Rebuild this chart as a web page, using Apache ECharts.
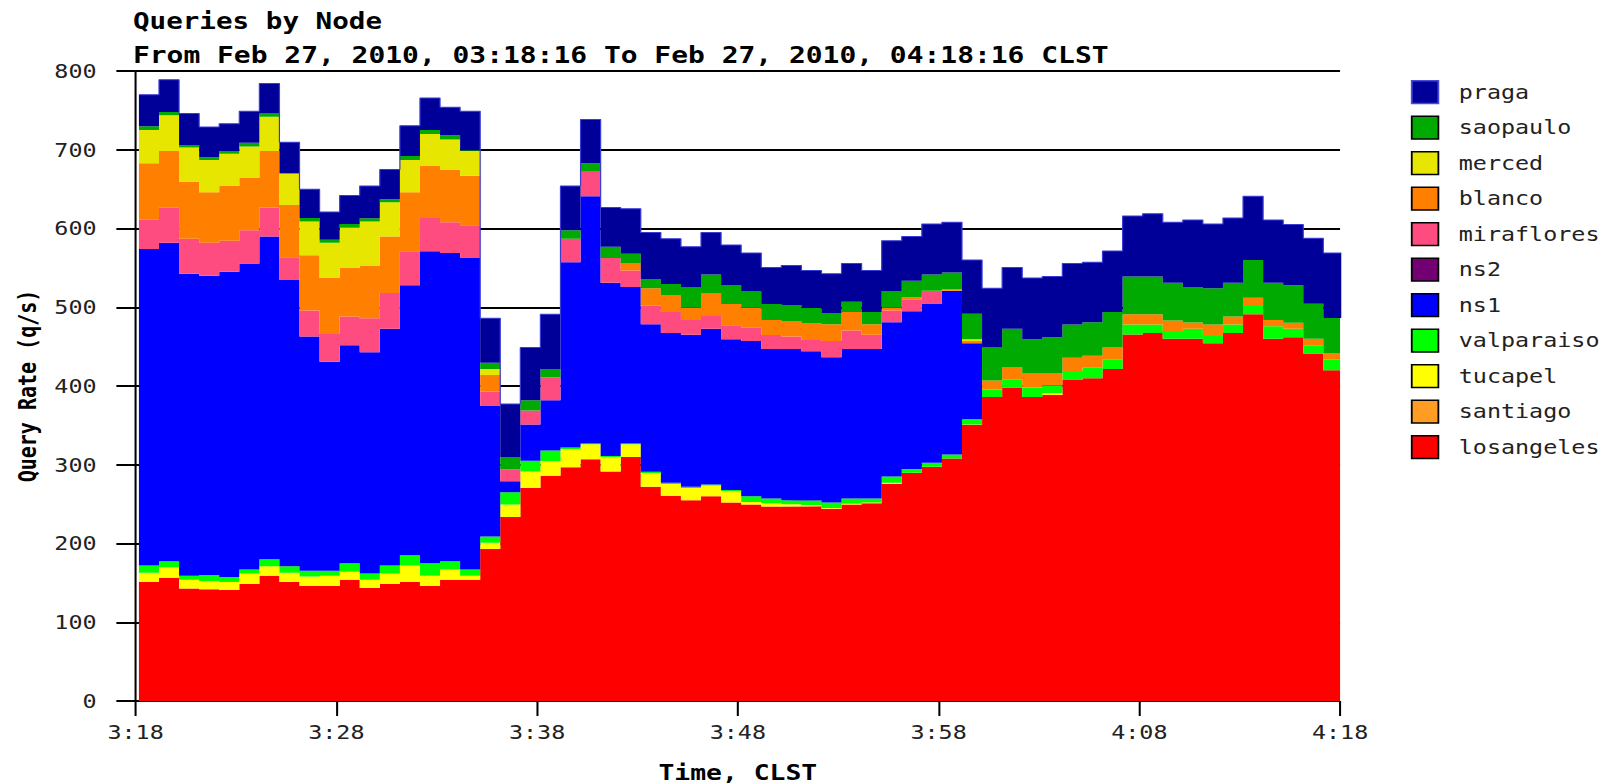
<!DOCTYPE html>
<html><head><meta charset="utf-8">
<script src="https://cdn.jsdelivr.net/npm/echarts@6/dist/echarts.min.js"></script>
<style>
html,body{margin:0;padding:0;background:#fff;overflow:hidden;}
#wrap{width:1604px;height:784px;overflow:hidden;position:relative;background:#fff;}
#chart{width:1337px;height:784px;transform:scaleX(1.1997);transform-origin:0 0;}
</style></head><body><div id="wrap"><div id="chart"></div></div>
<script>
const titleText = 'Queries by Node';
const subtitleText = 'From Feb 27, 2010, 03:18:16 To Feb 27, 2010, 04:18:16 CLST';
const xAxisName = 'Time, CLST';
const yAxisName = 'Query Rate (q/s)';
const timeTickLabels = ['3:18', '3:28', '3:38', '3:48', '3:58', '4:08', '4:18'];
const binStartOffsetMin = 10 / 60; // first one-minute bin starts a few seconds after 3:18

const losangeles = [151,156.5,143,142,141,148.6,159,151,146,146, 154,143.4,148.6,151,146,154,154,193,233.7,270.5, 286,296.7,307,291.5,310,272,260.5,255,260,252, 249.5,247,247,247.4,244,249.5,251,276,289.4,297, 307.8,350.8,386,398,386,388.7,407.6,409.7,421.7,465.3, 467.4,460,460,454.3,467.4,491,460,462,441.2,420];
const santiago = [0,0,0,0,0,0,0,0,0,0, 0,0,0,0,0,0,0,0,0,0, 0,0,0,0,0,0,0,0,0,0, 0,0,0,0,0,0,0,0,0,0, 0,0,0,0,0,0,0,0,0,0, 0,0,0,0,0,0,0,0,0,0];
const tucapel = [12,13.5,11,10,10,13.4,12,12,12,13, 10,10.6,13.2,21,13,13,5,8,15.8,21, 18.6,23.3,19,18.5,16,17.4,15.2,15.5,13.6,14.8, 3.1,4,3,1.1,1,1,1,1,0.6,0.5, 0.2,0.2,0,0,0,2.3,0,0,0,0, 0,0,0,0,0,0,0,0,0,0];
const valparaiso = [9,7.5,5,8,6.5,5,9,8,7.4,6.4, 11,7.8,10.2,13,16,10.5,8,8,15.5,13.5, 13.4,2,1,1,1,1.6,1.3,1.5,1.4,1.2, 7.4,6,5,6.2,7,6.5,5,8,4.6,5, 5,6.7,9.5,10.6,12,9.7,11.4,13.6,11.6,12.7, 10.6,10,12.7,10.5,10.6,10.6,15.8,10.7,10.5,13.3];
const ns1 = [402,404.5,383.5,380,387.5,388.7,410,363.7,297.3,265.3, 276.7,281,300.7,343,396,391.3,395.5,165.5,14,46, 64,235,314,220,198.7,187.5,190.4,193,197.7,191.5, 197,190,192,189.3,184.5,190,190,196,200.4,201.5, 207.5,96.6,0,0,0,0,0,0,0,0, 0,0,0,0,0,0,0,0,0,0];
const ns2 = [0,0,0,0,0,0,0,0,0,0, 0,0,0,0,0,0,0,0,0,0, 0,0,0,0,0,0,0,0,0,0, 0,0,0,0,0,0,0,0,0,0, 0,0,0,0,0,0,0,0,0,0, 0,0,0,0,0,0,0,0,0,0];
const miraflores = [37,44.5,44.5,42,39.6,42,36.6,28.9,33.3,35.3, 36.7,43.2,45.3,43,42.4,39.2,41.5,18.5,15,18, 29,30,31,31.5,21,23.5,26.6,18.7,16.3,17.5, 17,17.8,15.7,14.5,20.5,23.6,18,15,14.5,16.5, 0.5,0,0,0,0,0,0,0,0,0, 0,0,0,0,0,0,0,0,0,0];
const blanco = [72,72,72,64,69.4,66.3,71.9,66.4,70,71, 61.6,67,72,75,66.6,67,63,21,0,0, 0,0,0,0,9,22,21,15.8,29,27, 25.5,18.9,19.3,21,21.5,23.4,13.5,3.5,3.1,0.5, 2,2.7,11.5,15.4,18.5,15.8,17,15.2,15.7,13, 13,13.2,7.9,13.2,10.4,10.4,8,7.5,8.2,7.9];
const merced = [42,45.2,44,41,41,40,43.5,39.6,43,45, 51,56,43.4,41,40,38,31.5,7.7,0,0, 0,0,0,0,0,0,0,0,0,0, 0,0,0,0,0,0,0,0,0,0, 0,2.5,0,0,0,0,0,0,0,0, 0,0,0,0,0,0,0,0,0,0];
const saopaulo = [5,4.3,3,3.6,3.5,5,4,1,4.4,3.6, 4.6,4,3.6,5,5,5.5,1,7.9,16,13, 10.7,10.7,11,14.2,12.1,12,14.4,25.5,23.5,24.4, 20.5,20.3,21,20,14.1,13,15.5,21,21,20.5, 21,32.1,42,48.7,43,45.5,42,42.5,45,48, 48,47.8,45.1,46,42.6,48,47.3,47.8,44.6,45.1];
const praga = [40,41,40,38.4,34.5,40,38,38.9,36.6,35.4, 36.4,41,38,38.6,40.7,35.5,49.5,56.4,67,67, 69.3,56.3,55.4,49.9,57.2,59,57.6,51.7,53.5,50.6, 48.8,46.4,50,47.2,49.9,48.7,52.7,64.1,56.2,64.1, 64,68.4,75,77.7,77.8,77,77.7,76.2,77.4,77, 79.7,77,85.1,81.6,82.4,80.8,79.8,77.2,83,82.5];

const seriesNames = ['losangeles','santiago','tucapel','valparaiso','ns1','ns2','miraflores','blanco','merced','saopaulo','praga'];
const seriesValues = [losangeles, santiago, tucapel, valparaiso, ns1, ns2, miraflores, blanco, merced, saopaulo, praga];
const colors = {
  losangeles:'#ff0000', santiago:'#ff9c24', tucapel:'#ffff00', valparaiso:'#00ff00', ns1:'#0000ff',
  ns2:'#730073', miraflores:'#ff4c80', blanco:'#ff8000', merced:'#e6e600', saopaulo:'#00aa00', praga:'#000099'
};

const monoFont = 'DejaVu Sans Mono';
const chart = echarts.init(document.getElementById('chart'), null, {renderer:'svg'});

// rows are [value, minute]; value column first so that ECharts stacks the value (y) dimension
const series = seriesNames.map((name, k) => {
  const vals = seriesValues[k];
  const rows = vals.map((v, i) => [v, i + binStartOffsetMin]);
  rows.push([vals[vals.length - 1], vals.length + binStartOffsetMin]);
  return {
    name, type:'line', stack:'total', step:'end', symbol:'none', clip:false, silent:true,
    encode:{x:1, y:0},
    data: rows,
    itemStyle:{color: colors[name]},
    areaStyle:{color: colors[name], opacity:1},
    lineStyle: name === 'praga' ? {width:1, color:'#3a3ad6'} : {width:0, color: colors[name]},
    emphasis:{disabled:true}
  };
});

const legendOrder = seriesNames.slice().reverse();

chart.setOption({
  animation:false,
  backgroundColor:'#fff',
  title:[
    {text:titleText, left:110.8, top:9, padding:0, textStyle:{fontFamily:monoFont, fontWeight:'bold', fontSize:23, color:'#000'}},
    {text:subtitleText, left:110.8, top:43, padding:0, textStyle:{fontFamily:monoFont, fontWeight:'bold', fontSize:23.3, color:'#000'}}
  ],
  legend:{
    orient:'vertical', left:1176, top:80, padding:0,
    itemWidth:22.2, itemHeight:22.7, itemGap:11.3, icon:'rect', selectedMode:false,
    data: legendOrder.map(n => n === 'praga' ? {name:n, itemStyle:{borderColor:'#4a4ad8'}} : n),
    itemStyle:{borderColor:'#000', borderWidth:1.5},
    textStyle:{fontFamily:monoFont, fontSize:19.5, color:'#222', padding:[0,0,0,12]}
  },
  grid:{left:113, right:220, top:71, bottom:83, containLabel:false, outerBoundsMode:'none'},
  xAxis:{
    type:'value', min:0, max:60, interval:10,
    axisLine:{show:false},
    axisTick:{show:true, length:15, lineStyle:{color:'#000', width:1.7}},
    axisLabel:{margin:21, fontFamily:monoFont, fontSize:19.5, color:'#222',
      formatter: v => timeTickLabels[Math.round(v / 10)]},
    splitLine:{show:false},
    name:xAxisName, nameLocation:'middle', nameGap:60,
    nameTextStyle:{fontFamily:monoFont, fontWeight:'bold', fontSize:22, color:'#000'}
  },
  yAxis:{
    type:'value', min:0, max:800, interval:100,
    axisLine:{show:true, lineStyle:{color:'#000', width:1.7}},
    axisTick:{show:true, length:16, lineStyle:{color:'#000', width:2}},
    axisLabel:{margin:32.5, fontFamily:monoFont, fontSize:19.5, color:'#222'},
    splitLine:{show:true, lineStyle:{color:'#000', width:2}},
    name:yAxisName, nameLocation:'middle', nameGap:80, nameRotate:90,
    nameTextStyle:{fontFamily:monoFont, fontWeight:'bold', fontSize:20, color:'#000'}
  },
  series
});
</script></body></html>
